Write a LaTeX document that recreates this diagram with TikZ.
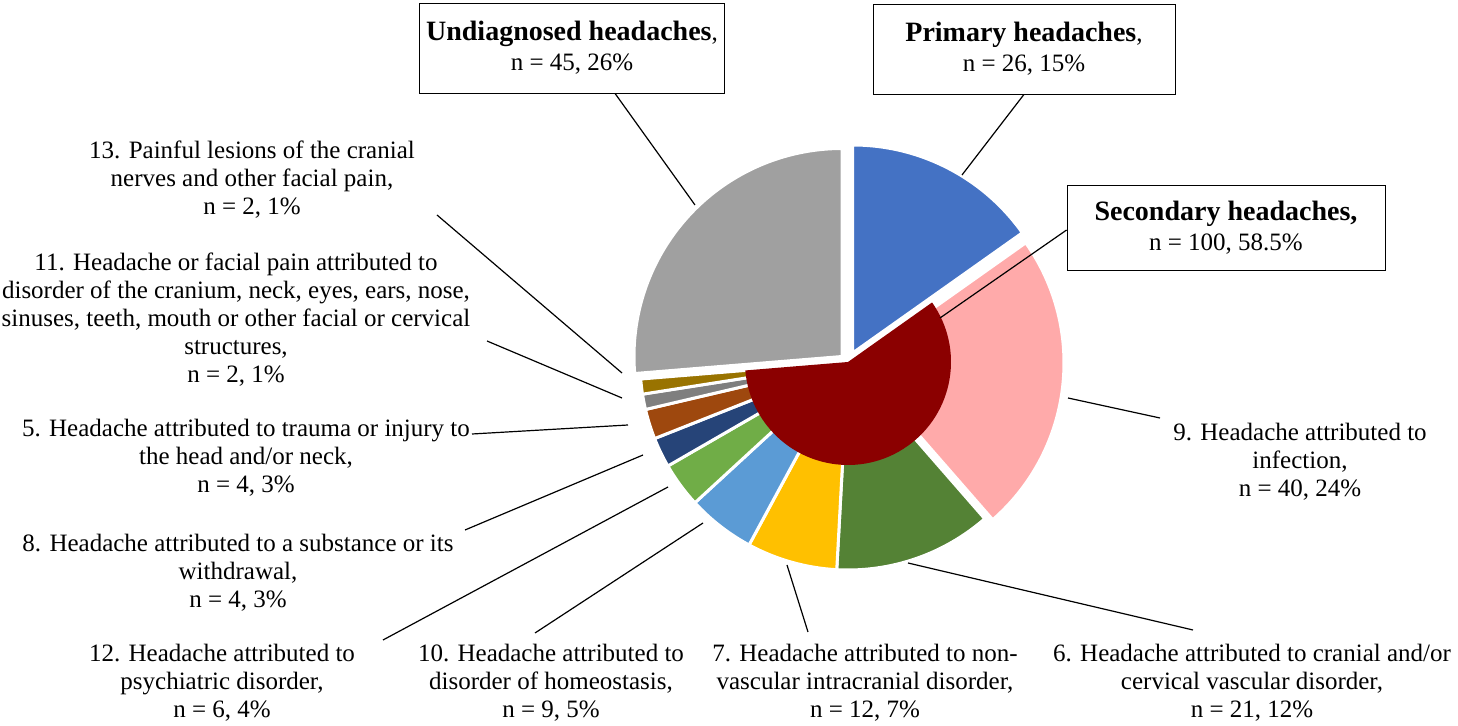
\documentclass[tikz,border=0pt]{standalone}
\usepackage{fontspec}
\setmainfont{Liberation Serif}
\begin{document}
\begin{tikzpicture}[x=0.5pt,y=-0.5pt,
  lbl/.style={align=center,font=\fontsize{12.5}{14}\selectfont,inner sep=0pt},
  box/.style={draw,align=center,font=\fontsize{12.5}{15}\selectfont,minimum width=#1*0.5pt,minimum height=90*0.5pt,inner sep=2pt},
  lead/.style={draw,line width=0.6pt},
  sl/.style={fill=#1,draw=white,line width=1.5pt}]
\useasboundingbox (0,0) rectangle (1458,726);
\definecolor{cblue}{HTML}{4472C4}\definecolor{cpink}{HTML}{FFAAAA}
\definecolor{cdg}{HTML}{548235}\definecolor{cyel}{HTML}{FFC000}
\definecolor{clb}{HTML}{5B9BD5}\definecolor{clg}{HTML}{70AD47}
\definecolor{cnv}{HTML}{264478}\definecolor{cbr}{HTML}{9E480E}
\definecolor{cgr}{HTML}{7F7F7F}\definecolor{col}{HTML}{997300}
\definecolor{cund}{HTML}{A0A0A0}\definecolor{cred}{HTML}{8B0000}
\newcommand{\myslice}[5]{\path[sl=#5] (#1) -- ++(#2:#4) arc[start angle=#2,end angle=#3,radius=#4] -- cycle;}
\newcommand{\bfl}[1]{{\fontsize{14}{15}\selectfont\textbf{#1}}}
\coordinate (c) at (848,362);
\coordinate (cb) at (852.6,353);
\coordinate (cp) at (856,363);
\coordinate (cu) at (842,356.5);
\myslice{cb}{-90}{-35.3}{208}{cblue}
\myslice{cp}{-35.3}{48.9}{208}{cpink}
\myslice{c}{48.9}{93.1}{208}{cdg}
\myslice{c}{93.1}{118.4}{208}{cyel}
\myslice{c}{118.4}{137.4}{208}{clb}
\myslice{c}{137.4}{150}{208}{clg}
\myslice{c}{150}{158.4}{208}{cnv}
\myslice{c}{158.4}{166.8}{208}{cbr}
\myslice{c}{166.8}{171.1}{208}{cgr}
\myslice{c}{171.1}{175.3}{208}{col}
\myslice{cu}{175.3}{270}{208}{cund}
\fill[cred] (c) -- ++(-35.3:103) arc[start angle=-35.3,end angle=175.3,radius=103] -- cycle;

\node[box=305] (bu) at (572,48) {\bfl{Undiagnosed headaches},\\n = 45, 26\%};
\node[box=302] (bp) at (1024,49) {\bfl{Primary headaches},\\n = 26, 15\%};
\node[box=318,minimum height=85*0.5pt] (bs) at (1226,228) {\bfl{Secondary headaches,}\\n = 100, 58.5\%};
\coordinate (pu) at (695,205); \coordinate (pp) at (962,175); \coordinate (ps) at (940,318);
\draw[lead] (bu.south)++(43,0) -- (pu);
\draw[lead] (bp.south) -- (pp);
\draw[lead] (bs.west)++(0,2) -- (ps);

\node[lbl] (l13) at (252,180) {13. Painful lesions of the cranial\\nerves and other facial pain,\\n = 2, 1\%};
\node[lbl] (l11) at (236,320) {11. Headache or facial pain attributed to\\disorder of the cranium, neck, eyes, ears, nose,\\sinuses, teeth, mouth or other facial or cervical\\structures,\\n = 2, 1\%};
\node[lbl] (l5) at (246,458) {5. Headache attributed to trauma or injury to\\the head and/or neck,\\n = 4, 3\%};
\node[lbl] (l8) at (238,573) {8. Headache attributed to a substance or its\\withdrawal,\\n = 4, 3\%};
\node[lbl] (l12) at (222,683) {12. Headache attributed to\\psychiatric disorder,\\n = 6, 4\%};
\node[lbl] (l10) at (551,683) {10. Headache attributed to\\disorder of homeostasis,\\n = 9, 5\%};
\node[lbl] (l7) at (865,683) {7. Headache attributed to non-\\vascular intracranial disorder,\\n = 12, 7\%};
\node[lbl] (l6) at (1252,683) {6. Headache attributed to cranial and/or\\cervical vascular disorder,\\n = 21, 12\%};
\node[lbl] (l9) at (1300,462) {9. Headache attributed to\\infection,\\n = 40, 24\%};

\coordinate (e13a) at (437,215); \coordinate (e13) at (622,373);
\coordinate (e11a) at (487,341); \coordinate (e11) at (622,398);
\coordinate (e5a) at (472,434); \coordinate (e5) at (628,425);
\coordinate (e8a) at (465,530); \coordinate (e8) at (643,455);
\coordinate (e12a) at (383,640); \coordinate (e12) at (668,487);
\coordinate (e10a) at (535,633); \coordinate (e10) at (703,523);
\coordinate (e7a) at (808,632); \coordinate (e7) at (787,565);
\coordinate (e6a) at (1193,630); \coordinate (e6) at (908,563);
\coordinate (e9a) at (1160,418); \coordinate (e9) at (1068,398);
\foreach \k in {13,11,5,8,12,10,7,6,9} {\draw[lead] (e\k a) -- (e\k);}
\end{tikzpicture}
\end{document}
